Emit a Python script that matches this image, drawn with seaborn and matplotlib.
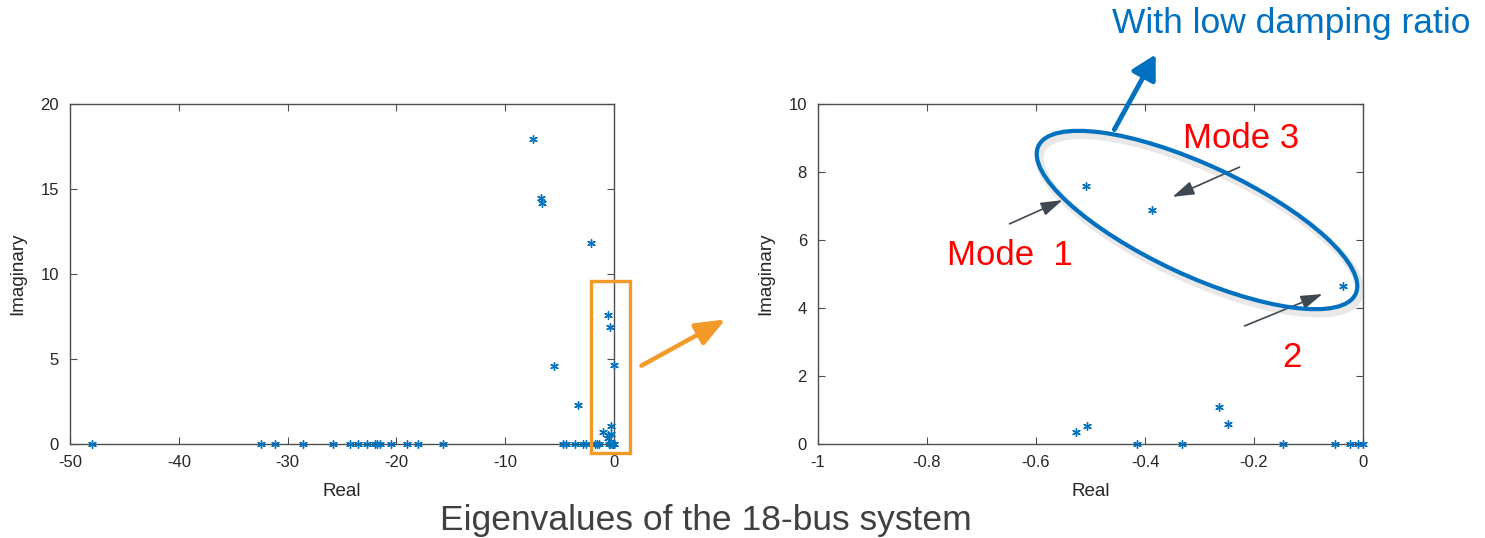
import pandas as pd
import matplotlib
matplotlib.use("Agg")
import matplotlib.pyplot as plt
import seaborn as sns
from matplotlib.patches import Ellipse, Rectangle, FancyArrowPatch
from matplotlib import patheffects as pe

# eigenvalues
real_only = [-48.0, -32.4, -31.2, -28.6, -25.8, -24.3, -23.5, -22.7, -22.0, -21.8,
             -21.5, -20.5, -19.05, -18.0, -15.7, -4.66, -4.41, -3.58, -2.85, -2.6,
             -1.75, -1.6, -1.35, -0.415, -0.332, -0.147, -0.051, -0.023, -0.009, 0.0]
complex_re = [-7.42, -6.74, -6.65, -2.15, -5.54, -3.3, -1.05,
              -0.508, -0.387, -0.037, -0.527, -0.506, -0.264, -0.248]
complex_im = [17.93, 14.5, 14.2, 11.8, 4.57, 2.27, 0.70,
              7.60, 6.89, 4.65, 0.36, 0.53, 1.08, 0.60]

left_xticks = [-50, -40, -30, -20, -10, 0]
left_yticks = [0, 5, 10, 15, 20]
right_xticks = [-1, -0.8, -0.6, -0.4, -0.2, 0]
right_xlabels = ["-1", "-0.8", "-0.6", "-0.4", "-0.2", "0"]
right_yticks = [0, 2, 4, 6, 8, 10]

df = pd.DataFrame({
    "real": real_only + complex_re,
    "imag": [0.0] * len(real_only) + complex_im,
})

sns.set_theme(style="ticks")
plt.rcParams["font.family"] = ["Liberation Sans", "DejaVu Sans"]
plt.rcParams["axes.unicode_minus"] = False

BLUE = "#0072BD"
W, H = 1485, 538
fig = plt.figure(figsize=(W / 100, H / 100), dpi=100)


def px(x, y):
    # figure pixel coords (origin top-left) -> inches
    return (x / 100, (H - y) / 100)


ax1 = fig.add_axes([70 / W, 1 - 444 / H, 544 / W, 340 / H])
ax2 = fig.add_axes([818 / W, 1 - 444 / H, 545 / W, 340 / H])

zoom = df[(df["real"] >= -1) & (df["real"] <= 0) & (df["imag"] <= 10)]

for ax, data in [(ax1, df), (ax2, zoom)]:
    sns.scatterplot(data=data, x="real", y="imag", ax=ax, marker=(6, 2, 0), s=30,
                    color=BLUE, edgecolor=BLUE, linewidth=1.0, clip_on=False,
                    legend=False, zorder=3)
    for sp in ax.spines.values():
        sp.set_visible(True)
        sp.set_color("#4d4d4d")
        sp.set_linewidth(1.0)
    ax.tick_params(direction="in", top=True, right=True, length=5, width=0.8,
                   color="#4d4d4d", labelsize=12, labelcolor="#262626", pad=8)
    ax.set_xlabel("Real", fontsize=13.5, color="#262626", labelpad=9)
    ax.set_ylabel("Imaginary", fontsize=13.5, color="#262626", labelpad=10)

ax1.set_xlim(-50, 0)
ax1.set_ylim(0, 20)
ax1.set_xticks(left_xticks)
ax1.set_yticks(left_yticks)

ax2.set_xlim(-1, 0)
ax2.set_ylim(0, 10)
ax2.set_xticks(right_xticks, right_xlabels)
ax2.set_yticks(right_yticks)

T = fig.dpi_scale_trans

# orange zoom box and arrow
box = Rectangle(px(591, 453), 39 / 100, 172 / 100, transform=T, fill=False,
                edgecolor="#F39A28", linewidth=2.4, zorder=5)
fig.add_artist(box)
fig.add_artist(FancyArrowPatch(px(639, 367), px(728, 318), transform=T,
                               arrowstyle="-|>,head_length=1.0,head_width=0.4",
                               mutation_scale=18, color="#F39A28", linewidth=3.2))

# low-damping ellipse
ell = Ellipse(px(1197, 220), 3.5, 1.1, angle=-25, transform=T, fill=False,
              edgecolor="#0070C0", linewidth=3.0, zorder=5,
              path_effects=[pe.SimpleLineShadow(offset=(2, -3), shadow_color="gray", alpha=0.18,
                                                linewidth=6),
                            pe.Normal()])
fig.add_artist(ell)
fig.add_artist(FancyArrowPatch(px(1113, 132), px(1157, 52), transform=T,
                               arrowstyle="-|>,head_length=0.9,head_width=0.5",
                               mutation_scale=16, color="#0070C0", linewidth=3.5))
fig.text(*px(1112, 33), "With low damping ratio", transform=T, fontsize=25.5,
         color="#0070C0", ha="left", va="baseline")

# mode arrows
GRAY = "#3F4752"
for tail, head in [((1007, 225), (1065, 199)),
                   ((1242, 166), (1170, 198)),
                   ((1242, 327), (1325, 293))]:
    fig.add_artist(FancyArrowPatch(px(*tail), px(*head), transform=T,
                                   arrowstyle="-|>,head_length=1.1,head_width=0.35",
                                   mutation_scale=12, color=GRAY, linewidth=1.2))

fig.text(*px(1183, 148), "Mode 3", transform=T, fontsize=25, color="red",
         ha="left", va="baseline")
fig.text(*px(947, 265), "Mode  1", transform=T, fontsize=25, color="red",
         ha="left", va="baseline")
fig.text(*px(1282, 367), "2", transform=T, fontsize=25, color="red",
         ha="left", va="baseline")

fig.text(*px(706, 530), "Eigenvalues of the 18-bus system", transform=T, fontsize=25.5,
         color="#404040", ha="center", va="baseline")

fig.savefig("out.png", dpi=100)
